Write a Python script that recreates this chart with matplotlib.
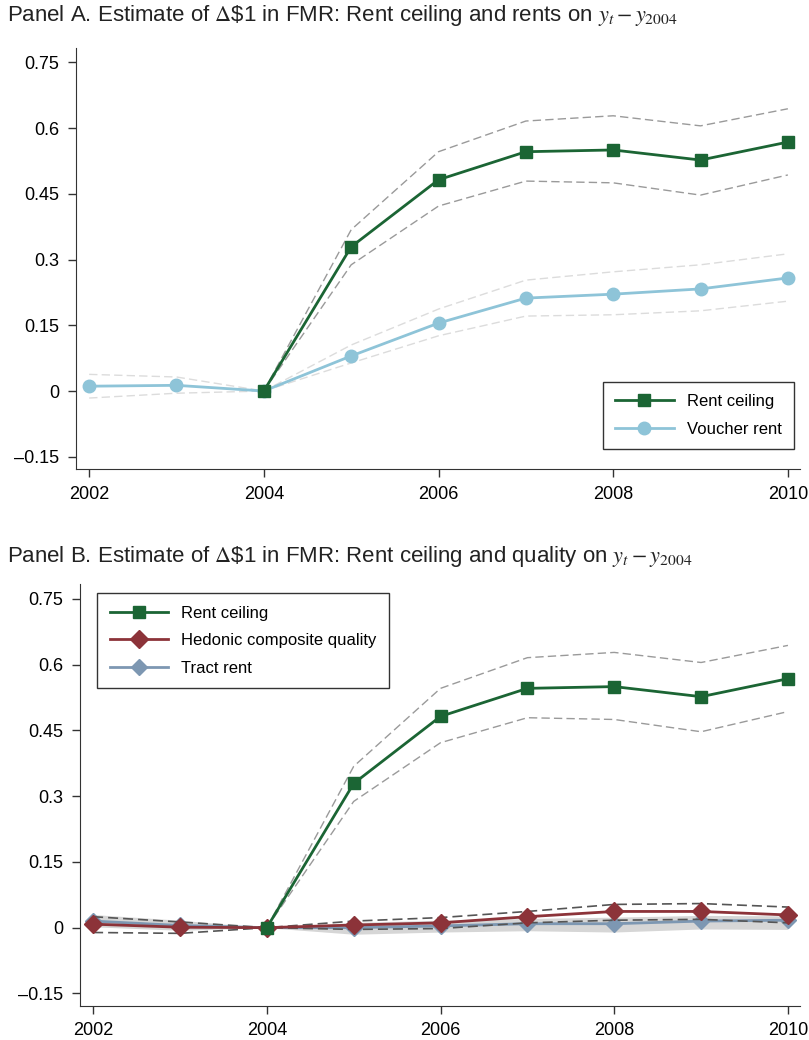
import matplotlib.pyplot as plt
import numpy as np

plt.rcParams['font.family'] = ['Liberation Sans', 'DejaVu Sans']
plt.rcParams['mathtext.fontset'] = 'stix'

# event-study estimates, years relative to 2004
years = [2002, 2003, 2004, 2005, 2006, 2007, 2008, 2009, 2010]
ceil_years = [2004, 2005, 2006, 2007, 2008, 2009, 2010]

rent_ceiling = [0.0, 0.329, 0.482, 0.546, 0.550, 0.527, 0.568]
rent_ceiling_hi = [0.0, 0.368, 0.546, 0.616, 0.628, 0.605, 0.644]
rent_ceiling_lo = [0.0, 0.288, 0.422, 0.479, 0.475, 0.447, 0.493]

voucher_rent = [0.011, 0.013, 0.0, 0.080, 0.155, 0.212, 0.221, 0.233, 0.258]
voucher_hi = [0.038, 0.032, 0.0, 0.105, 0.187, 0.253, 0.272, 0.288, 0.313]
voucher_lo = [-0.016, -0.005, 0.0, 0.064, 0.126, 0.171, 0.174, 0.183, 0.205]

hedonic = [0.008, 0.001, 0.0, 0.006, 0.011, 0.025, 0.037, 0.037, 0.029]
hedonic_hi = [0.025, 0.013, 0.0, 0.015, 0.023, 0.037, 0.053, 0.055, 0.047]
hedonic_lo = [-0.011, -0.013, 0.0, -0.004, -0.002, 0.011, 0.017, 0.019, 0.011]

tract_rent = [0.015, 0.005, 0.0, 0.000, 0.004, 0.009, 0.009, 0.015, 0.017]
tract_hi = [0.030, 0.017, 0.0, 0.012, 0.017, 0.021, 0.024, 0.028, 0.027]
tract_lo = [0.002, -0.006, 0.0, -0.015, -0.010, -0.007, -0.010, -0.003, -0.004]

yticks = [-0.15, 0, 0.15, 0.3, 0.45, 0.6, 0.75]
ytick_labels = ['\u20130.15', '0', '0.15', '0.3', '0.45', '0.6', '0.75']
xticks = [2002, 2004, 2006, 2008, 2010]

green = '#1b6534'
lblue = '#8ec4d8'
red = '#8c3339'
steel = '#7d97b2'

fig = plt.figure(figsize=(8.09, 10.4), dpi=100)
ax1 = fig.add_axes([0.094, 0.549, 0.895, 0.405])
ax2 = fig.add_axes([0.099, 0.033, 0.890, 0.405])


def style_axes(ax):
    ax.set_xlim(2001.85, 2010.14)
    ax.set_ylim(-0.178, 0.783)
    ax.set_xticks(xticks)
    ax.set_yticks(yticks)
    ax.set_yticklabels(ytick_labels)
    ax.spines['top'].set_visible(False)
    ax.spines['right'].set_visible(False)
    ax.spines['left'].set_color('#333333')
    ax.spines['bottom'].set_color('#333333')
    ax.tick_params(direction='out', length=6, width=1, color='#333333',
                   labelsize=13, pad=6)


# Panel A
ax1.plot(ceil_years, rent_ceiling_hi, ls=(0, (6, 3)), color='#9a9a9a', lw=1)
ax1.plot(ceil_years, rent_ceiling_lo, ls=(0, (6, 3)), color='#9a9a9a', lw=1)
ax1.plot(years, voucher_hi, ls=(0, (6, 3)), color='#dcdcdc', lw=1)
ax1.plot(years, voucher_lo, ls=(0, (6, 3)), color='#dcdcdc', lw=1)
ax1.plot(years, voucher_rent, color=lblue, lw=2, marker='o', ms=9,
         label='Voucher rent')
ax1.plot(ceil_years, rent_ceiling, color=green, lw=2, marker='s', ms=8,
         label='Rent ceiling')
style_axes(ax1)
h, l = ax1.get_legend_handles_labels()
leg = ax1.legend(h[::-1], l[::-1], loc='lower right',
                 bbox_to_anchor=(0.992, 0.0475), borderaxespad=0,
                 fontsize=12, fancybox=False, edgecolor='#333333',
                 framealpha=1, handlelength=3.5, borderpad=0.75,
                 labelspacing=0.75)
leg.get_frame().set_linewidth(1)

fig.text(0.009, 0.985,
         r'Panel A. Estimate of $\Delta$\$1 in FMR: Rent ceiling and rents on $y_t - y_{2004}$',
         fontsize=16, va='center', ha='left', color='#222222')

# Panel B
ax2.fill_between(years, tract_lo, tract_hi, color='#d6d6d6', lw=0)
ax2.plot(ceil_years, rent_ceiling_hi, ls=(0, (6, 3)), color='#9a9a9a', lw=1)
ax2.plot(ceil_years, rent_ceiling_lo, ls=(0, (6, 3)), color='#9a9a9a', lw=1)
ax2.plot(years, tract_rent, color=steel, lw=2, marker='D', ms=8,
         label='Tract rent')
ax2.plot(years, hedonic_hi, ls=(0, (6, 3)), color='#555555', lw=1.2)
ax2.plot(years, hedonic_lo, ls=(0, (6, 3)), color='#555555', lw=1.2)
ax2.plot(years, hedonic, color=red, lw=2, marker='D', ms=9,
         label='Hedonic composite quality')
ax2.plot(ceil_years, rent_ceiling, color=green, lw=2, marker='s', ms=8,
         label='Rent ceiling')
style_axes(ax2)
h, l = ax2.get_legend_handles_labels()
leg = ax2.legend(h[::-1], l[::-1], loc='upper left',
                 bbox_to_anchor=(0.0236, 0.979), borderaxespad=0,
                 fontsize=12, fancybox=False, edgecolor='#333333',
                 framealpha=1, handlelength=3.5, borderpad=0.75,
                 labelspacing=0.75)
leg.get_frame().set_linewidth(1)

fig.text(0.009, 0.4645,
         r'Panel B. Estimate of $\Delta$\$1 in FMR: Rent ceiling and quality on $y_t - y_{2004}$',
         fontsize=16, va='center', ha='left', color='#222222')

fig.savefig('out.png', dpi=100)
